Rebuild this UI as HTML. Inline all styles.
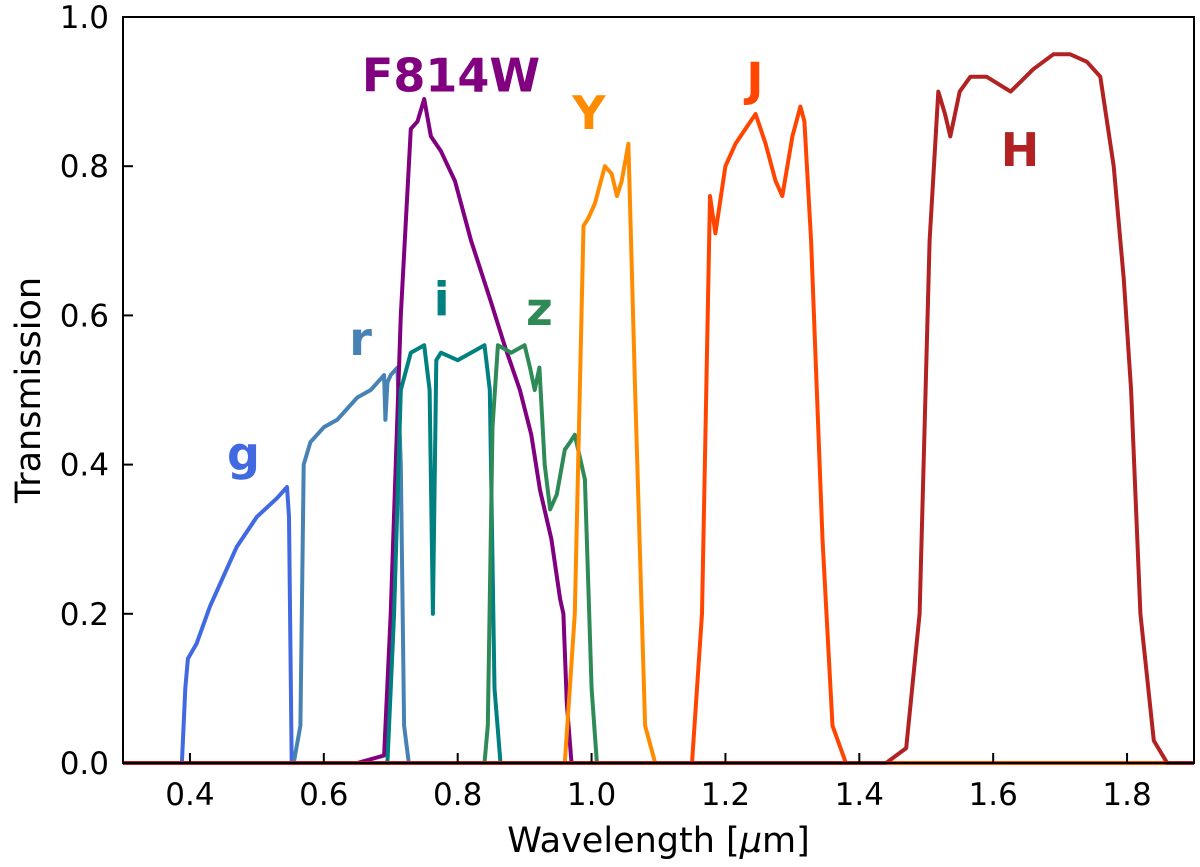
<!DOCTYPE html>
<html><head><meta charset="utf-8"><style>body{margin:0;background:#fff}svg{display:block}text{font-family:"DejaVu Sans","Liberation Sans",sans-serif}</style></head>
<body>
<svg id="c" width="1200" height="867"></svg>
<script>
const xTicks=[0.4,0.6,0.8,1.0,1.2,1.4,1.6,1.8];
const yTicks=[0.0,0.2,0.4,0.6,0.8,1.0];
const gWl=[0.3,0.388,0.393,0.397,0.41,0.43,0.45,0.47,0.5,0.53,0.545,0.548,0.552,0.56,1.9];
const gT=[0,0,0.1,0.14,0.16,0.21,0.25,0.29,0.33,0.355,0.37,0.33,0,0,0];
const rWl=[0.3,0.555,0.565,0.57,0.58,0.6,0.62,0.65,0.67,0.69,0.692,0.695,0.70,0.71,0.715,0.72,0.727,1.9];
const rT=[0,0,0.05,0.40,0.43,0.45,0.46,0.49,0.5,0.52,0.46,0.51,0.52,0.53,0.4,0.05,0,0];
const fWl=[0.3,0.65,0.69,0.70,0.715,0.73,0.74,0.75,0.76,0.775,0.796,0.82,0.849,0.87,0.893,0.91,0.923,0.94,0.953,0.958,0.963,0.97,1.9];
const fT=[0,0,0.01,0.2,0.6,0.85,0.86,0.89,0.84,0.82,0.78,0.7,0.62,0.56,0.50,0.44,0.366,0.3,0.22,0.2,0.08,0,0];
const iWl=[0.3,0.695,0.705,0.715,0.73,0.75,0.758,0.763,0.768,0.775,0.8,0.82,0.84,0.848,0.855,0.864,1.9];
const iT=[0,0,0.2,0.5,0.55,0.56,0.5,0.2,0.54,0.55,0.54,0.55,0.56,0.5,0.1,0,0];
const zWl=[0.3,0.84,0.845,0.852,0.86,0.88,0.9,0.908,0.915,0.922,0.93,0.938,0.948,0.96,0.968,0.975,0.99,1.0,1.008,1.9];
const zT=[0,0,0.05,0.45,0.56,0.55,0.56,0.53,0.5,0.53,0.4,0.34,0.36,0.42,0.43,0.44,0.38,0.1,0,0];
const yWl=[0.3,0.96,0.975,0.988,0.995,1.005,1.02,1.03,1.038,1.045,1.055,1.065,1.08,1.095,1.9];
const yT=[0,0,0.2,0.72,0.73,0.75,0.8,0.79,0.76,0.78,0.83,0.5,0.05,0,0];
const jWl=[0.3,1.15,1.165,1.177,1.185,1.2,1.215,1.23,1.245,1.26,1.275,1.285,1.3,1.312,1.318,1.328,1.345,1.36,1.38,1.9];
const jT=[0,0,0.2,0.76,0.71,0.8,0.83,0.85,0.87,0.83,0.78,0.76,0.84,0.88,0.86,0.7,0.3,0.05,0,0];
const hWl=[0.3,1.44,1.47,1.49,1.505,1.518,1.528,1.536,1.55,1.566,1.59,1.626,1.66,1.69,1.715,1.74,1.76,1.78,1.795,1.806,1.82,1.84,1.86,1.9];
const hT=[0,0,0.02,0.2,0.7,0.9,0.87,0.84,0.9,0.92,0.92,0.9,0.93,0.95,0.95,0.94,0.92,0.8,0.65,0.5,0.2,0.03,0,0];
const series=[["g-curve",gWl,gT,"#4169e1"],["r-curve",rWl,rT,"#4682b4"],["f814w-curve",fWl,fT,"#800080"],["i-curve",iWl,iT,"#008080"],["z-curve",zWl,zT,"#2e8b57"],["y-curve",yWl,yT,"#ff8c00"],["j-curve",jWl,jT,"#ff4500"],["h-curve",hWl,hT,"#b22222"]];
const labels=[["g",0.48,0.393,"#4169e1"],["r",0.655,0.547,"#4682b4"],["i",0.776,0.6,"#008080"],["z",0.922,0.587,"#2e8b57"],["F814W",0.79,0.9,"#800080"],["Y",0.996,0.85,"#ff8c00"],["J",1.244,0.895,"#ff4500"],["H",1.64,0.8,"#b22222"]];
const L=123,R=1194,T=17,B=763;
const sx=v=>L+(v-0.3)/1.6*(R-L), sy=v=>B-v*(B-T);
const svg=document.getElementById('c'),NS="http://www.w3.org/2000/svg";
function mk(t,a,p){const e=document.createElementNS(NS,t);for(const k in a)e.setAttribute(k,a[k]);(p||svg).appendChild(e);return e;}
series.forEach(s=>{const p=mk('path',{d:s[1].map((w,i)=>(i?'L':'M')+sx(w).toFixed(1)+' '+sy(s[2][i]).toFixed(1)).join(''),fill:'none',stroke:s[3],'stroke-width':4,'stroke-linejoin':'round'});

});
labels.forEach(l=>{const t=mk('text',{x:sx(l[1]),y:sy(l[2]),fill:l[3],'font-size':46,'font-weight':'bold','text-anchor':'middle'});t.textContent=l[0];

});
const fr=mk('rect',{x:L,y:T,width:R-L,height:B-T,fill:'none',stroke:'#000','stroke-width':2});


xTicks.forEach(v=>{const x=sx(v);mk('line',{x1:x,x2:x,y1:B,y2:B-10,stroke:'#000','stroke-width':2});
const t=mk('text',{x:x,y:B+42,'font-size':31,'text-anchor':'middle'});t.textContent=v.toFixed(1);

});
yTicks.forEach(v=>{const y=sy(v);mk('line',{x1:L,x2:L+10,y1:y,y2:y,stroke:'#000','stroke-width':2});
const t=mk('text',{x:L-14,y:y+11,'font-size':31,'text-anchor':'end'});t.textContent=v.toFixed(1);

});
const xt=mk('text',{x:(L+R)/2,y:852,'font-size':35,'text-anchor':'middle'});xt.innerHTML='Wavelength [<tspan font-style="italic">μ</tspan>m]';


const yt=mk('text',{x:0,y:0,'font-size':35,'text-anchor':'middle',transform:'translate(40,390) rotate(-90)'});yt.textContent='Transmission';


</script>
</body></html>
